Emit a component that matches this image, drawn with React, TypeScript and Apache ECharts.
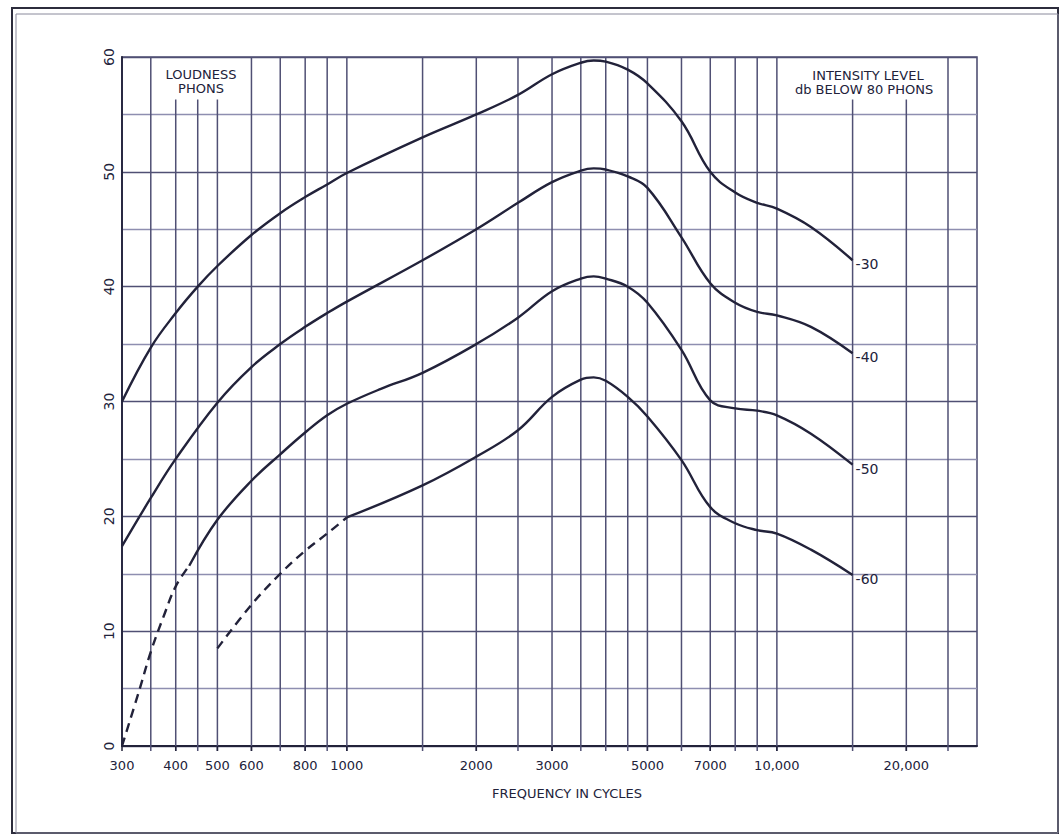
import React, { useEffect, useRef } from "react";
import * as echarts from "echarts";

// Vertical grid lines (frequency, Hz) and tick labels
const gridFreqs = [350, 400, 450, 500, 600, 700, 800, 900, 1000, 1500, 2000, 2500, 3000, 3500, 4000, 4500, 5000, 6000, 7000, 8000, 9000, 10000, 15000, 20000, 25000];
const shortGridFreqs = [400, 450, 500, 15000, 20000];
const xTickLabels = [300, 400, 500, 600, 800, 1000, 2000, 3000, 5000, 7000, 10000, 20000];
const xTickTexts = ["300", "400", "500", "600", "800", "1000", "2000", "3000", "5000", "7000", "10,000", "20,000"];

// Curve: -30 db
const freq30 = [300, 350, 400, 450, 500, 600, 700, 800, 900, 1000, 1500, 2000, 2500, 3000, 3500, 3750, 4000, 4500, 5000, 6000, 7000, 8000, 9000, 10000, 12000, 15000];
const level30 = [30, 34.7, 37.7, 40.0, 41.8, 44.5, 46.4, 47.8, 48.9, 49.9, 53, 55, 56.7, 58.5, 59.5, 59.7, 59.6, 58.9, 57.7, 54.4, 50, 48.2, 47.3, 46.8, 45.2, 42.3];

// Curve: -40 db
const freq40 = [300, 350, 400, 500, 600, 700, 800, 900, 1000, 1500, 2000, 2500, 3000, 3500, 3750, 4000, 4500, 5000, 6000, 7000, 8000, 9000, 10000, 12000, 15000];
const level40 = [17.4, 21.6, 25.0, 29.9, 33.0, 35.0, 36.5, 37.7, 38.7, 42.3, 45, 47.3, 49.1, 50.1, 50.3, 50.2, 49.6, 48.6, 44.3, 40.3, 38.6, 37.8, 37.5, 36.5, 34.2];

// Curve: -50 db (dashed start, then solid)
const freq50Dashed = [300, 330, 350, 375, 400, 430];
const level50Dashed = [0, 5, 8.2, 11.3, 13.9, 15.7];
const freq50 = [430, 500, 600, 700, 800, 900, 1000, 1200, 1500, 2000, 2500, 3000, 3500, 3750, 4000, 4500, 5000, 6000, 7000, 8000, 9000, 10000, 12000, 15000];
const level50 = [15.7, 19.7, 23.1, 25.4, 27.3, 28.8, 29.8, 31.1, 32.5, 35, 37.3, 39.6, 40.7, 40.9, 40.7, 40, 38.6, 34.5, 30.1, 29.4, 29.2, 28.8, 27.2, 24.5];

// Curve: -60 db (dashed start, then solid)
const freq60Dashed = [500, 600, 700, 800, 900, 1000];
const level60Dashed = [8.5, 12.3, 15, 17.0, 18.5, 19.9];
const freq60 = [1000, 1500, 2000, 2500, 3000, 3500, 3750, 4000, 4500, 5000, 6000, 7000, 8000, 9000, 10000, 12000, 15000];
const level60 = [19.9, 22.7, 25.2, 27.5, 30.4, 31.9, 32.1, 31.8, 30.4, 28.7, 24.9, 20.8, 19.4, 18.8, 18.5, 17.1, 14.9];

const pairs = (xs: number[], ys: number[]) => xs.map((x, i) => [x, ys[i]]);

export default function App() {
  const ref = useRef<HTMLDivElement>(null);
  useEffect(() => {
    const chart = echarts.init(ref.current!, null, { renderer: "svg" });
    const ink = "#22223a";
    const gridColor = "#505074";
    const font = "DejaVu Sans";

    const curve = (data: number[][], dashed: boolean, label?: string): any => ({
      type: "line",
      data,
      smooth: 0.4,
      symbol: "none",
      silent: true,
      z: 5,
      lineStyle: { color: ink, width: 2.4, type: dashed ? [9, 6] : "solid" },
      endLabel: label
        ? { show: true, formatter: label, color: ink, fontSize: 14, fontFamily: font, distance: 3, offset: [0, 4] }
        : { show: false },
    });

    const txt = (x: number, y: number, text: string): any => ({
      type: "text",
      x,
      y,
      silent: true,
      style: { text, fill: ink, fontSize: 13, fontFamily: font, align: "center", verticalAlign: "middle" },
    });

    const option: any = {
      animation: false,
      backgroundColor: "#ffffff",
      grid: { left: 122, top: 57, width: 855, height: 689, show: true, borderColor: gridColor, borderWidth: 1.6, backgroundColor: "transparent" },
      xAxis: {
        type: "log",
        logBase: 10,
        min: 300,
        max: 29200,
        axisLine: { show: true, lineStyle: { color: ink, width: 1.8 } },
        axisTick: { show: false },
        axisLabel: { show: false },
        splitLine: { show: false },
        minorSplitLine: { show: false },
      },
      yAxis: {
        type: "value",
        min: 0,
        max: 60,
        interval: 5,
        axisLine: { show: true, lineStyle: { color: ink, width: 1.8 } },
        axisTick: { show: false },
        axisLabel: {
          formatter: (v: number) => (v % 10 === 0 ? String(v) : ""),
          rotate: 90,
          margin: 6,
          color: ink,
          fontSize: 14,
          fontFamily: font,
        },
        splitLine: { show: true, lineStyle: { color: [gridColor, "#8e8eb0"], width: 1.4 } },
      },
      series: [
        {
          type: "custom",
          silent: true,
          clip: false,
          z: 1,
          data: gridFreqs.map((f) => [f, shortGridFreqs.includes(f) ? 56.3 : 60]),
          renderItem: (params: any, api: any) => {
            const f = api.value(0);
            const top = api.value(1);
            const p0 = api.coord([f, 0]);
            const p1 = api.coord([f, top]);
            return {
              type: "line",
              shape: { x1: p0[0], y1: p0[1] + 5, x2: p1[0], y2: p1[1] },
              style: { stroke: gridColor, lineWidth: 1.5 },
            };
          },
        },
        {
          type: "custom",
          silent: true,
          clip: false,
          z: 2,
          data: xTickLabels.map((f, i) => [f, i]),
          renderItem: (params: any, api: any) => {
            const f = api.value(0);
            const i = api.value(1);
            const p0 = api.coord([f, 0]);
            return {
              type: "group",
              children: [
                {
                  type: "line",
                  shape: { x1: p0[0], y1: p0[1], x2: p0[0], y2: p0[1] + 5 },
                  style: { stroke: ink, lineWidth: 1.5 },
                },
                {
                  type: "text",
                  x: p0[0],
                  y: p0[1] + 19,
                  style: {
                    text: xTickTexts[i],
                    fill: ink,
                    fontSize: 13,
                    fontFamily: font,
                    align: "center",
                    verticalAlign: "middle",
                  },
                },
              ],
            };
          },
        },
        curve(pairs(freq30, level30), false, "-30"),
        curve(pairs(freq40, level40), false, "-40"),
        curve(pairs(freq50Dashed, level50Dashed), true),
        curve(pairs(freq50, level50), false, "-50"),
        curve(pairs(freq60Dashed, level60Dashed), true),
        curve(pairs(freq60, level60), false, "-60"),
      ],
      graphic: [
        { type: "rect", shape: { x: 12, y: 8, width: 1046, height: 825 }, style: { fill: "none", stroke: "#2c2c3c", lineWidth: 2 }, silent: true },
        { type: "rect", shape: { x: 16, y: 14, width: 1042, height: 819 }, style: { fill: "none", stroke: "#8a8a9c", lineWidth: 1 }, silent: true },
        txt(201, 74, "LOUDNESS"),
        txt(201, 88, "PHONS"),
        txt(868, 75, "INTENSITY LEVEL"),
        txt(864, 89, "db BELOW 80 PHONS"),
        txt(567, 793, "FREQUENCY IN CYCLES"),
      ],
    };
    chart.setOption(option);
    return () => chart.dispose();
  }, []);
  return <div ref={ref} style={{ position: "fixed", left: 0, top: 0, width: 1061, height: 835 }} />;
}
